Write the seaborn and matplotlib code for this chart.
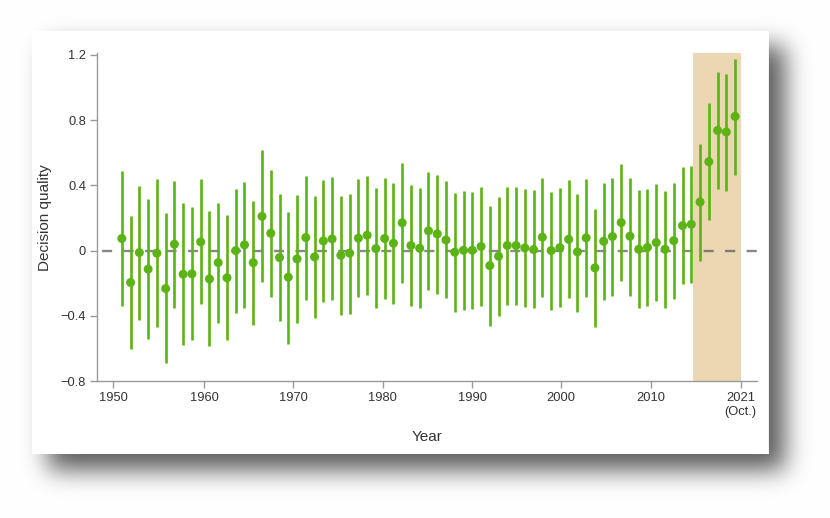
import math
import numpy as np
import pandas as pd
import matplotlib
matplotlib.use("Agg")
import matplotlib.pyplot as plt
import seaborn as sns

# ---- data ----
years = list(range(1951, 2022))
quality = [0.074, -0.196, -0.012, -0.114, -0.016, -0.233, 0.039, -0.145, -0.143, 0.053,
           -0.174, -0.074, -0.167, 0.000, 0.035, -0.074, 0.210, 0.106, -0.043, -0.163,
           -0.051, 0.080, -0.039, 0.059, 0.071, -0.029, -0.016, 0.076, 0.094, 0.012,
           0.074, 0.045, 0.170, 0.031, 0.014, 0.121, 0.102, 0.065, -0.010, 0.002,
           0.002, 0.025, -0.092, -0.035, 0.031, 0.031, 0.016, 0.006, 0.082, 0.000,
           0.018, 0.069, -0.008, 0.078, -0.106, 0.057, 0.086, 0.172, 0.088, 0.008,
           0.020, 0.049, 0.008, 0.061, 0.153, 0.161, 0.298, 0.545, 0.737, 0.727,
           0.823]
lower = [-0.343, -0.605, -0.425, -0.543, -0.470, -0.690, -0.353, -0.582, -0.551, -0.329,
         -0.586, -0.447, -0.551, -0.382, -0.353, -0.455, -0.194, -0.282, -0.435, -0.570,
         -0.443, -0.302, -0.415, -0.317, -0.302, -0.394, -0.386, -0.284, -0.274, -0.351,
         -0.296, -0.329, -0.196, -0.343, -0.351, -0.241, -0.266, -0.292, -0.376, -0.362,
         -0.359, -0.343, -0.460, -0.402, -0.335, -0.335, -0.349, -0.355, -0.282, -0.366,
         -0.347, -0.290, -0.374, -0.286, -0.466, -0.302, -0.278, -0.188, -0.276, -0.351,
         -0.339, -0.310, -0.351, -0.298, -0.208, -0.200, -0.061, 0.188, 0.378, 0.368,
         0.464]
upper = [0.488, 0.214, 0.398, 0.317, 0.437, 0.229, 0.429, 0.292, 0.268, 0.437,
         0.243, 0.292, 0.217, 0.380, 0.419, 0.306, 0.617, 0.492, 0.347, 0.239,
         0.339, 0.460, 0.337, 0.431, 0.449, 0.337, 0.347, 0.439, 0.455, 0.384,
         0.447, 0.415, 0.535, 0.404, 0.384, 0.484, 0.464, 0.425, 0.353, 0.366,
         0.362, 0.390, 0.272, 0.331, 0.392, 0.390, 0.378, 0.370, 0.447, 0.359,
         0.382, 0.431, 0.349, 0.437, 0.255, 0.417, 0.447, 0.533, 0.447, 0.370,
         0.380, 0.408, 0.368, 0.417, 0.513, 0.519, 0.656, 0.905, 1.095, 1.085,
         1.178]
tick_labels = ["1950", "1960", "1970", "1980", "1990", "2000", "2010", "2021\n(Oct.)"]
ytick_values = [-0.8, -0.4, 0, 0.4, 0.8, 1.2]
ytick_labels = ["\u22120.8", "\u22120.4", "0", "0.4", "0.8", "1.2"]
highlight_span = (2016.2, 2021.7)

df = pd.DataFrame({"Year": years, "quality": quality, "lower": lower, "upper": upper})

# ---- style ----
sns.set_theme(style="white")
plt.rcParams["font.family"] = ["Liberation Sans", "DejaVu Sans"]

GREEN = "#5bb414"
SHADE = "#ebd8b3"
SPINE = "#9a9a9a"
TEXT = "#333333"

W, H = 830, 518
fig = plt.figure(figsize=(W / 100, H / 100), dpi=100)
fig.patch.set_facecolor("white")

# ---- card with drop shadow (background image) ----
def phi(v):
    return 0.5 * (1 + np.array([math.erf(t / math.sqrt(2)) for t in v]))

xs = np.arange(W) + 0.5
ys = np.arange(H) + 0.5
s = 12.0
fx = phi((xs - 48) / s) - phi((xs - 784) / s)
fy = phi((ys - 46) / s) - phi((ys - 470) / s)
dark = 0.64 * np.outer(fy, fx)
img = 1.0 - dark
card = (slice(31, 454), slice(32, 768))
img[card] = 1.0
rgb = np.dstack([img, img, img])
bg = fig.add_axes([0, 0, 1, 1], zorder=-10)
bg.imshow(rgb, extent=[0, W, H, 0], aspect="auto", interpolation="bilinear")
bg.set_xlim(0, W)
bg.set_ylim(H, 0)
bg.axis("off")

# ---- main axes ----
ax_l, ax_r, ax_t, ax_b = 97.3, 757.0, 53.3, 381.0
ax = fig.add_axes([ax_l / W, 1 - ax_b / H, (ax_r - ax_l) / W, (ax_b - ax_t) / H])
ax.set_facecolor("none")

ax.axvspan(highlight_span[0], highlight_span[1], color=SHADE, lw=0, zorder=1)
ax.plot([1948.7, 2024.1], [0, 0], color="#505050", alpha=0.68, lw=1.7,
        dashes=(4.3, 4.8), clip_on=False, zorder=2, solid_capstyle="butt")

ax.vlines(df["Year"], df["lower"], df["upper"], color=GREEN, lw=1.9, zorder=3)
sns.scatterplot(data=df, x="Year", y="quality", ax=ax, color=GREEN, s=42,
                edgecolor="none", linewidth=0, zorder=4, legend=False)

ax.set_xlim(1948.2, 2023.5)
ax.set_ylim(-0.8, 1.21)
tick_pos = [1950.04, 1960.38, 1970.57, 1980.76, 1990.98, 2001.09, 2011.39, 2021.62]
ax.set_xticks(tick_pos)
ax.set_xticklabels(tick_labels)
ax.set_yticks(ytick_values)
ax.set_yticklabels(ytick_labels)

ax.tick_params(axis="both", direction="out", length=5, width=1, color=SPINE,
               labelsize=9.3, labelcolor=TEXT, pad=3, bottom=True, left=True)
for side in ["top", "right"]:
    ax.spines[side].set_visible(False)
for side in ["left", "bottom"]:
    ax.spines[side].set_color(SPINE)
    ax.spines[side].set_linewidth(1)

ax.set_xlabel("Year", fontsize=11, color=TEXT)
ax.set_ylabel("Decision quality", fontsize=11, color=TEXT)
ax.xaxis.set_label_coords((427 - ax_l) / (ax_r - ax_l), (ax_b - 437) / (ax_b - ax_t))
ax.yaxis.set_label_coords((45 - ax_l) / (ax_r - ax_l), 0.5)
ax.xaxis.label.set_verticalalignment("center")
ax.yaxis.label.set_verticalalignment("center")

fig.savefig("out.png", dpi=100, facecolor="white")
